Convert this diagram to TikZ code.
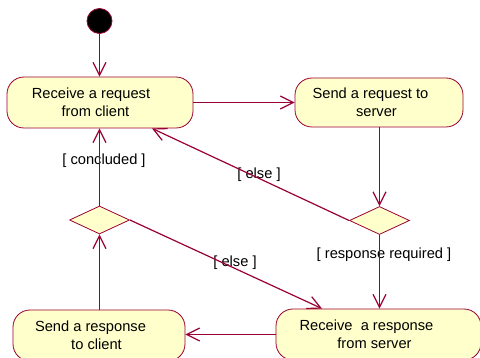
\documentclass[tikz,border=0pt]{standalone}
\usepackage{fontspec}
\setmainfont{Liberation Sans}
\usetikzlibrary{shapes.geometric,arrows.meta}
\definecolor{edgec}{RGB}{153,0,51}
\definecolor{fillc}{RGB}{255,255,204}
\begin{document}
\begin{tikzpicture}[x=1pt,y=-1pt,
  act/.style={draw=edgec, fill=fillc, rounded corners=17pt, line width=0.8pt, align=center,
    font=\fontsize{14.67pt}{18pt}\selectfont, inner sep=0pt},
  dec/.style={diamond, draw=edgec, fill=fillc, line width=0.8pt, minimum width=60pt,
    minimum height=28pt, inner sep=0pt},
  flow/.style={draw=edgec, line width=1.2pt, -{Straight Barb[length=13pt,width=13pt]}},
  guard/.style={font=\fontsize{14.67pt}{18pt}\selectfont, inner sep=0pt}]
\useasboundingbox (0,0) rectangle (480,358);
\clip (0,0) rectangle (480,358);
\node[circle, fill=black, draw=edgec, line width=0.8pt, minimum size=25pt, inner sep=0pt] (S) at (99.5,21) {};
\node[act, minimum width=186pt, minimum height=51pt] (A) at (100,102.5)
  {Receive a request\hspace*{18pt}\\from client\hspace*{9pt}};
\node[act, minimum width=168pt, minimum height=49pt] (B) at (379,102.5)
  {Send a request to\hspace*{17pt}\\server\hspace*{5pt}};
\node[act, minimum width=172pt, minimum height=51pt] (C) at (99,335.5)
  {Send a response\hspace*{17pt}\\to client\hspace*{5pt}};
\node[act, minimum width=205pt, minimum height=51pt] (D) at (378.5,334.5)
  {Receive\ \ a response\hspace*{24pt}\\from server\hspace*{8pt}};
\node[dec] (L) at (99.5,220) {};
\node[dec] (R) at (379.5,220.5) {};
\node[guard] (g1) at (104,161) {[ concluded ]};
\node[guard] (g2) at (259,175) {[ else ]};
\node[guard] (g3) at (235,263) {[ else ]};
\node[guard] (g4) at (384,255) {[ response required ]};
\draw[flow] (S.south) -- (S.south |- A.north);
\draw[flow] (A.east) -- (B.west);
\draw[flow] (R.north |- B.south) -- (R.north);
\draw[flow] (R.south) -- (R.south |- D.north);
\draw[flow] (R.west) -- ([xshift=52pt]A.south);
\draw[flow] (L.east) -- ([xshift=-56.5pt]D.north);
\draw[flow] (D.west) -- (D.west -| C.east);
\draw[flow] (L.south |- C.north) -- (L.south);
\draw[flow] (L.north) -- (L.north |- A.south);
\end{tikzpicture}
\end{document}
